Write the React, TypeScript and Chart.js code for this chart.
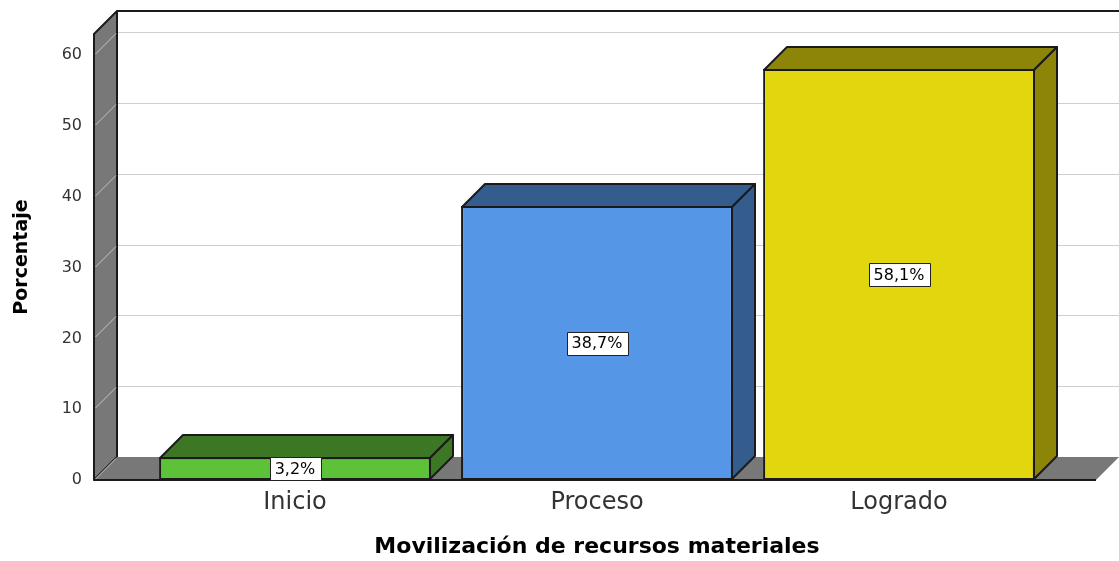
import { useEffect, useRef } from 'react';
import { Chart, registerables } from 'chart.js';

Chart.register(...registerables);

const categories = ['Inicio', 'Proceso', 'Logrado'];
const percentages = [3.2, 38.7, 58.1];
const yAxisMin = 0;
const yAxisMax = 63;
const yTickStep = 10;
const xTitle = 'Movilización de recursos materiales';
const yTitle = 'Porcentaje';

const frontColors = ['#5DC238', '#5596E6', '#E2D60F'];
const sideColors = ['#3C7823', '#345D8E', '#8C8508'];
const WALL = '#787878';
const EDGE = '#1a1a1a';
const DEPTH = 23;
const FONT = "'DejaVu Sans', Verdana, sans-serif";

const fmt = (v: number) => v.toFixed(1).replace('.', ',') + '%';

const depthPlugin = {
  id: 'depth3d',
  beforeDatasetsDraw(chart: any) {
    const { ctx, chartArea: a, scales } = chart;
    const y = scales.y;
    const D = DEPTH;
    const L = a.left - 50;
    const R = a.right + 46;
    const B = a.bottom;
    const T = a.top;
    const W = chart.width;
    ctx.save();
    ctx.lineWidth = 1;
    // back wall gridlines
    ctx.strokeStyle = '#cfcfcf';
    y.ticks.forEach((t: any) => {
      const py = Math.round(y.getPixelForValue(t.value)) - D + 0.5;
      ctx.beginPath();
      ctx.moveTo(L + D, py);
      ctx.lineTo(W, py);
      ctx.stroke();
    });
    // side wall
    ctx.lineWidth = 2;
    ctx.lineJoin = 'round';
    ctx.fillStyle = WALL;
    ctx.strokeStyle = EDGE;
    ctx.beginPath();
    ctx.moveTo(L, T);
    ctx.lineTo(L + D, T - D);
    ctx.lineTo(L + D, B - D);
    ctx.lineTo(L, B);
    ctx.closePath();
    ctx.fill();
    ctx.stroke();
    // back wall top border
    ctx.beginPath();
    ctx.moveTo(L + D, T - D);
    ctx.lineTo(W, T - D);
    ctx.stroke();
    // floor
    ctx.beginPath();
    ctx.moveTo(L, B);
    ctx.lineTo(L + D, B - D);
    ctx.lineTo(R + D, B - D);
    ctx.lineTo(R, B);
    ctx.closePath();
    ctx.fill();
    ctx.beginPath();
    ctx.moveTo(L, B);
    ctx.lineTo(R, B);
    ctx.stroke();
    // side wall diagonal gridlines
    ctx.lineWidth = 1;
    ctx.strokeStyle = '#c4c4c4';
    y.ticks.forEach((t: any) => {
      const py = Math.round(y.getPixelForValue(t.value)) + 0.5;
      ctx.beginPath();
      ctx.moveTo(L + 1.5, py - 1.5);
      ctx.lineTo(L + D - 1, py - D + 1);
      ctx.stroke();
    });
    ctx.restore();
  },
  afterDatasetsDraw(chart: any) {
    const { ctx } = chart;
    const meta = chart.getDatasetMeta(0);
    const D = DEPTH;
    ctx.save();
    ctx.lineWidth = 2;
    ctx.lineJoin = 'round';
    ctx.strokeStyle = EDGE;
    meta.data.forEach((bar: any, i: number) => {
      const { x, y, base, width } = bar.getProps(['x', 'y', 'base', 'width'], true);
      const l = Math.round(x - width / 2) + 1;
      const r = Math.round(x + width / 2) - 1;
      const top = Math.round(y) + 1;
      const bot = Math.round(base) - 1;
      ctx.fillStyle = sideColors[i];
      // top face
      ctx.beginPath();
      ctx.moveTo(l, top);
      ctx.lineTo(l + D, top - D);
      ctx.lineTo(r + D, top - D);
      ctx.lineTo(r, top);
      ctx.closePath();
      ctx.fill();
      ctx.stroke();
      // side face
      ctx.beginPath();
      ctx.moveTo(r, top);
      ctx.lineTo(r + D, top - D);
      ctx.lineTo(r + D, bot - D);
      ctx.lineTo(r, bot);
      ctx.closePath();
      ctx.fill();
      ctx.stroke();
    });
    // value labels
    ctx.lineWidth = 1;
    ctx.font = `16px ${FONT}`;
    ctx.textAlign = 'center';
    ctx.textBaseline = 'middle';
    meta.data.forEach((bar: any, i: number) => {
      const { x, y, base } = bar.getProps(['x', 'y', 'base'], true);
      const text = fmt(percentages[i]);
      const tw = ctx.measureText(text).width;
      const bw = Math.round(tw + 10);
      const bh = 23;
      const cy = (y + base) / 2;
      const bx = Math.round(x - bw / 2) + 0.5;
      const by = Math.round(cy - bh / 2) + 0.5;
      ctx.fillStyle = '#fff';
      ctx.fillRect(bx, by, bw, bh);
      ctx.strokeStyle = '#222';
      ctx.strokeRect(bx, by, bw, bh);
      ctx.fillStyle = '#000';
      ctx.fillText(text, x, cy + 1);
    });
    ctx.restore();
  },
};

export default function App() {
  const ref = useRef<HTMLCanvasElement | null>(null);
  useEffect(() => {
    document.body.style.margin = '0';
    const canvas = ref.current;
    if (!canvas) return;
    const chart = new Chart(canvas, {
      type: 'bar',
      data: {
        labels: categories,
        datasets: [
          {
            data: percentages,
            backgroundColor: frontColors,
            borderColor: EDGE,
            borderWidth: 2,
            borderSkipped: false,
            barPercentage: 0.9,
            categoryPercentage: 1,
          },
        ],
      },
      options: {
        animation: false,
        responsive: false,
        devicePixelRatio: 1,
        layout: { padding: { top: 34, right: 69, left: 0, bottom: 0 } },
        plugins: {
          legend: { display: false },
          tooltip: { enabled: false },
        },
        scales: {
          x: {
            type: 'category',
            offset: true,
            grid: { display: false, drawTicks: false },
            border: { display: false },
            ticks: {
              font: { family: FONT, size: 24 },
              color: '#333',
              padding: 8,
              maxRotation: 0,
            },
            title: {
              display: true,
              text: xTitle,
              font: { family: FONT, size: 22, weight: 'bold' },
              color: '#000',
              padding: { top: 0, bottom: 1 },
            },
            afterFit: (s: any) => {
              s.height = 81;
              s.paddingLeft = 0;
              s.paddingRight = 0;
            },
          },
          y: {
            min: yAxisMin,
            max: yAxisMax,
            grid: { display: false, drawTicks: false },
            border: { display: false },
            ticks: {
              stepSize: yTickStep,
              font: { family: FONT, size: 16 },
              color: '#333',
              padding: 62,
            },
            afterBuildTicks: (s: any) => {
              s.ticks = s.ticks.filter((t: any) => t.value % yTickStep === 0);
            },
            title: {
              display: true,
              text: yTitle,
              font: { family: FONT, size: 19, weight: 'bold' },
              color: '#000',
              padding: { top: 11, bottom: 0 },
            },
            afterFit: (s: any) => {
              s.width = 144;
              s.paddingTop = 0;
              s.paddingBottom = 0;
            },
          },
        },
      } as any,
      plugins: [depthPlugin],
    });
    return () => chart.destroy();
  }, []);
  return (
    <div style={{ width: 1119, height: 561 }}>
      <canvas ref={ref} width={1119} height={561} />
    </div>
  );
}
